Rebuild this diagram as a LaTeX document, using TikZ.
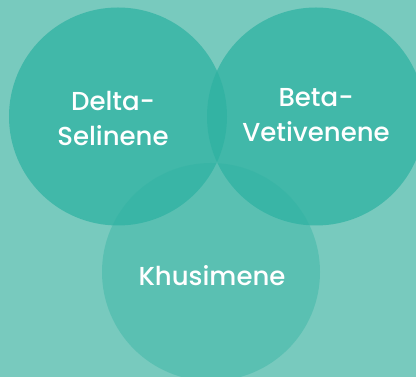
\documentclass[tikz,border=0pt]{standalone}
\usepackage{fontspec}
\setmainfont{Poppins}[UprightFont={* Medium}]
\usetikzlibrary{positioning}
\definecolor{bgteal}{RGB}{120,202,190}
\definecolor{circleteal}{RGB}{47,178,162}
\tikzset{
        treenode/.style={align=center,inner sep=0pt,outer sep=0pt},
        % Upper circles
        node_circle/.style={treenode, circle, fill=circleteal, fill opacity=0.75, minimum size=218pt},
        % Lower circle
        node_circle_light/.style={node_circle, fill opacity=0.4},
        % Labels
        node_label/.style={treenode, white, font=\fontsize{26}{35}\selectfont}
}
\begin{document}
\begin{tikzpicture}[x=1pt,y=1pt]
            \fill[bgteal] (0,0) rectangle (416,377);
            \useasboundingbox (0,0) rectangle (416,377);
            \node[node_circle] (delta) at (118,260.5) {};
            \node[node_circle] (beta) at (316,260.5) {};
            \node[node_circle_light] (khus) at (211,105) {};
            \node[node_label] (delta_txt) at (113,258) {Delta-\\Selinene};
            \node[node_label] (beta_txt) at (316,262) {Beta-\\Vetivenene};
            \node[node_label] (khus_txt) at (212,101) {Khusimene};
        \end{tikzpicture}
\end{document}
